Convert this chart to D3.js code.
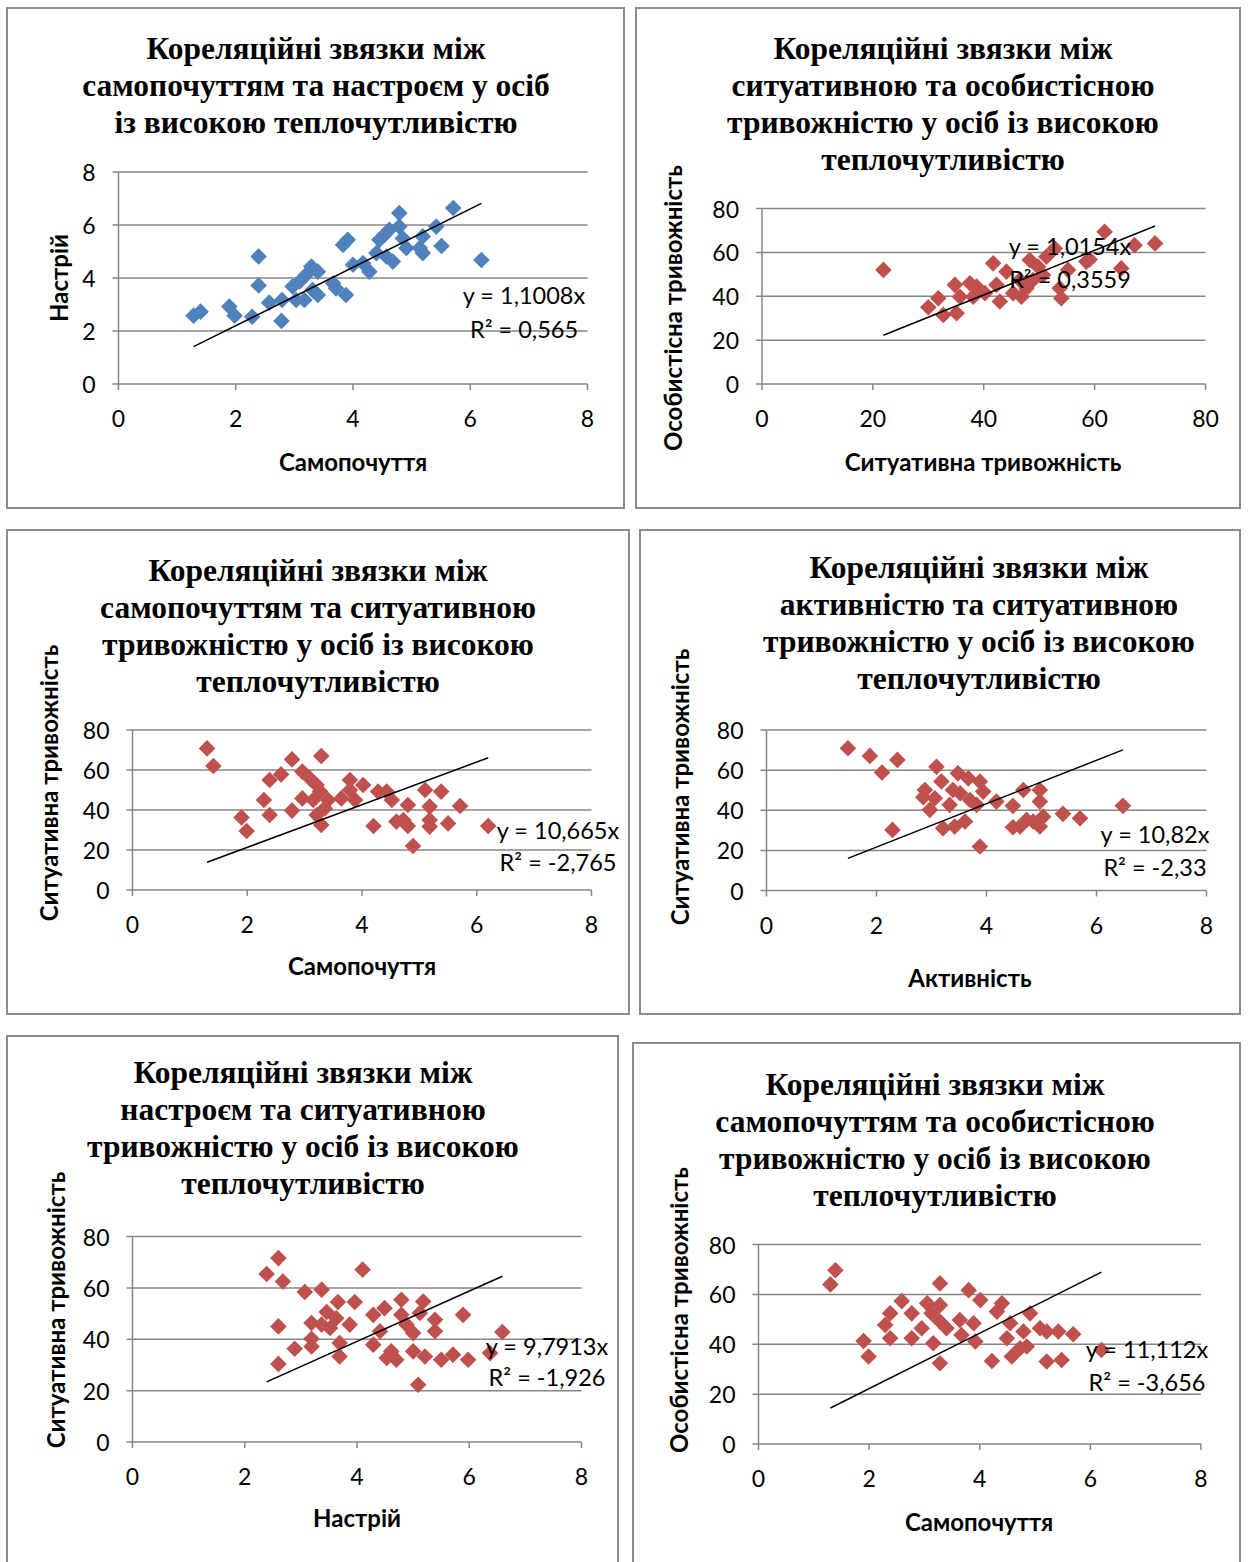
<!DOCTYPE html>
<html>
<head>
<meta charset="utf-8">
<script src="https://cdn.jsdelivr.net/npm/d3@7"></script>
<style>
  body { margin: 0; background: #fff; }
  svg { display: block; }
  .title { font-family: "Liberation Serif", "Times New Roman", serif; font-weight: bold; font-size: 31.5px; fill: #000; }
  .tick-label { font-family: Lato, "Noto Sans", sans-serif; font-size: 23px; fill: #000; }
  .axis-title { font-family: Lato, "Noto Sans", sans-serif; font-weight: bold; font-size: 24px; fill: #000; }
  .eq { font-family: Lato, "Noto Sans", sans-serif; font-size: 23.5px; fill: #000; }
</style>
</head>
<body>
<div id="viz"></div>
<script>
// points: [x, y]
var wellbeingMood = [
    [1.28,2.58],[1.40,2.73],[1.89,2.92],[1.98,2.58],[2.28,2.54],[2.39,4.81],[2.39,3.72],
    [2.57,3.07],[2.78,2.38],[2.79,3.17],[2.97,3.68],[3.03,3.17],[3.09,3.87],[3.17,3.17],
    [3.20,4.12],[3.29,4.43],[3.40,4.24],[3.40,3.36],[3.31,3.55],[3.66,3.80],[3.71,3.61],
    [3.88,3.36],[3.83,5.25],[3.91,5.44],[4.00,4.50],[4.17,4.56],[4.28,4.24],[4.40,4.94],
    [4.45,5.44],[4.54,5.63],[4.62,5.82],[4.68,4.62],[4.57,4.81],[4.79,6.45],[4.79,5.94],
    [4.85,5.50],[4.91,5.13],[5.14,5.13],[5.19,4.94],[5.19,5.57],[5.42,5.94],[5.51,5.21],
    [5.71,6.64],[6.19,4.68]
];
var situationalPersonal = [
    [21.9,52.0],[30.0,35.0],[31.8,39.1],[32.7,31.5],[35.1,32.3],[34.8,45.2],[35.7,39.8],
    [37.5,45.9],[38.1,39.8],[38.7,44.4],[40.2,41.4],[41.7,55.0],[42.3,45.2],[42.9,37.6],
    [44.1,51.2],[45.3,41.4],[46.5,47.4],[46.8,39.8],[47.7,43.6],[48.3,56.5],[48.9,47.4],
    [49.8,53.5],[50.7,49.7],[51.3,58.0],[52.8,61.8],[53.7,43.6],[54.0,39.1],[55.2,52.0],
    [58.5,55.8],[59.1,56.8],[61.8,69.4],[64.8,52.7],[67.2,63.3],[70.9,64.1]
];
var wellbeingSituational = [
    [1.30,70.8],[1.41,62.0],[1.90,36.3],[1.99,29.5],[2.29,45.0],[2.39,37.5],[2.39,55.0],
    [2.59,57.8],[2.78,65.3],[2.78,39.7],[2.96,59.2],[2.96,45.8],[3.09,55.8],[3.21,52.5],
    [3.15,45.0],[3.27,49.2],[3.29,67.0],[3.29,32.5],[3.21,37.5],[3.35,40.8],[3.41,45.0],
    [3.64,45.8],[3.79,55.0],[3.79,50.0],[3.88,45.0],[4.02,52.5],[4.20,32.0],[4.28,49.2],
    [4.43,49.2],[4.52,45.0],[4.60,34.2],[4.72,35.0],[4.80,42.5],[4.80,32.0],[4.89,22.0],
    [5.10,50.0],[5.18,41.7],[5.18,35.0],[5.18,31.7],[5.38,49.2],[5.50,33.3],[5.71,42.0],
    [6.20,32.0]
];
var activitySituational = [
    [1.48,70.9],[1.88,67.1],[2.10,58.8],[2.38,65.1],[2.29,30.2],[2.88,50.1],[2.85,46.5],
    [2.97,40.2],[3.09,61.7],[3.18,54.3],[3.06,46.0],[3.21,31.0],[3.33,42.7],[3.39,50.1],
    [3.42,31.9],[3.48,58.4],[3.52,48.5],[3.61,34.4],[3.67,55.9],[3.70,45.1],[3.88,54.3],
    [3.82,42.7],[3.94,49.3],[3.88,21.9],[4.18,44.3],[4.48,42.2],[4.48,31.5],[4.61,31.9],
    [4.67,50.1],[4.73,35.2],[4.85,34.4],[4.97,50.1],[4.97,44.3],[4.97,31.9],[5.03,36.8],
    [5.39,38.2],[5.70,36.0],[6.48,42.2]
];
var moodSituational = [
    [2.39,65.4],[2.60,71.6],[2.68,62.5],[2.60,45.0],[2.60,30.4],[2.89,36.3],[3.07,58.4],
    [3.19,46.3],[3.19,40.2],[3.19,37.2],[3.37,59.3],[3.37,45.7],[3.46,50.6],[3.52,44.4],
    [3.66,54.5],[3.63,48.2],[3.69,38.5],[3.69,33.3],[3.87,45.7],[3.96,54.5],[4.10,67.1],
    [4.29,49.5],[4.29,37.9],[4.41,43.1],[4.49,52.1],[4.53,32.7],[4.61,35.3],[4.70,32.0],
    [4.79,55.4],[4.79,49.5],[4.88,45.7],[5.00,42.4],[5.00,35.3],[5.09,22.3],[5.12,50.2],
    [5.18,54.7],[5.21,33.3],[5.39,47.6],[5.39,43.1],[5.50,32.0],[5.71,34.0],[5.89,49.5],
    [5.98,32.0],[6.37,34.6],[6.59,42.8]
];
var wellbeingPersonal = [
    [1.30,64.0],[1.39,69.7],[1.90,41.3],[1.99,35.1],[2.29,47.7],[2.38,52.4],[2.38,42.4],
    [2.59,57.3],[2.77,52.4],[2.77,42.4],[3.05,56.4],[2.95,46.4],[3.13,52.4],[3.16,40.4],
    [3.28,64.4],[3.28,55.7],[3.28,49.1],[3.28,32.4],[3.40,46.4],[3.64,49.7],[3.67,43.7],
    [3.80,61.7],[3.89,48.4],[3.92,41.1],[4.01,57.7],[4.22,33.3],[4.31,53.1],[4.40,56.4],
    [4.49,42.4],[4.55,48.4],[4.58,35.1],[4.73,38.4],[4.79,45.1],[4.85,39.1],[4.91,52.4],
    [5.09,46.4],[5.21,45.1],[5.21,33.1],[5.42,45.1],[5.48,33.7],[5.69,44.0],[6.20,37.7]
];

var slopes = [1.1008, 1.0154, 10.665, 10.82, 9.7913, 11.112];
var eqLabels = ["y = 1,1008x", "y = 1,0154x", "y = 10,665x", "y = 10,82x", "y = 9,7913x", "y = 11,112x"];
var r2Labels = ["R² = 0,565", "R² = 0,3559", "R² = -2,765", "R² = -2,33", "R² = -1,926", "R² = -3,656"];

var titles = [
    ["Кореляційні звязки між", "самопочуттям та настроєм у осіб", "із високою теплочутливістю"],
    ["Кореляційні звязки між", "ситуативною та особистісною", "тривожністю у осіб із високою", "теплочутливістю"],
    ["Кореляційні звязки між", "самопочуттям та ситуативною", "тривожністю у осіб із високою", "теплочутливістю"],
    ["Кореляційні звязки між", "активністю та ситуативною", "тривожністю у осіб із високою", "теплочутливістю"],
    ["Кореляційні звязки між", "настроєм та ситуативною", "тривожністю у осіб із високою", "теплочутливістю"],
    ["Кореляційні звязки між", "самопочуттям та особистісною", "тривожністю у осіб із високою", "теплочутливістю"]
];
var xTitles = ["Самопочуття", "Ситуативна тривожність", "Самопочуття", "Активність", "Настрій", "Самопочуття"];
var yTitles = ["Настрій", "Особистісна тривожність", "Ситуативна тривожність", "Ситуативна тривожність", "Ситуативна тривожність", "Особистісна тривожність"];

// layout of each panel (pixels)
var panels = [
    {data: wellbeingMood, color: "#4F81BD", box: [7, 8, 624, 508], plot: [118.5, 172, 587.5, 384], xmax: 8, ymax: 8, step: 2,
        titleX: 316, titleY: 48, xt: [353, 461], yt: [58, 278], eq: [524, 295, 329]},
    {data: situationalPersonal, color: "#C0504D", box: [636, 8, 1240, 508], plot: [762, 208.5, 1205.5, 384], xmax: 80, ymax: 80, step: 20,
        titleX: 943, titleY: 48, xt: [983, 461], yt: [672, 308], eq: [1070, 246, 279]},
    {data: wellbeingSituational, color: "#C0504D", box: [7, 530, 629, 1014], plot: [132.5, 730, 591.5, 890], xmax: 8, ymax: 80, step: 2, ystep: 20,
        titleX: 318, titleY: 570, xt: [362, 965], yt: [48, 783], eq: [558, 830, 862]},
    {data: activitySituational, color: "#C0504D", box: [640, 530, 1240, 1014], plot: [766.5, 730, 1206.5, 890.5], xmax: 8, ymax: 80, step: 2, ystep: 20,
        titleX: 979, titleY: 567, xt: [970, 977], yt: [679, 787], eq: [1155, 834, 867]},
    {data: moodSituational, color: "#C0504D", box: [7, 1036, 618, 1575], plot: [132.5, 1236.5, 581.5, 1442], xmax: 8, ymax: 80, step: 2, ystep: 20,
        titleX: 303, titleY: 1072, xt: [357, 1517], yt: [55, 1310], eq: [547, 1346, 1377]},
    {data: wellbeingPersonal, color: "#C0504D", box: [633, 1043, 1240, 1575], plot: [758.5, 1244.5, 1201, 1444], xmax: 8, ymax: 80, step: 2, ystep: 20,
        titleX: 935, titleY: 1084, xt: [979, 1521], yt: [678, 1310], eq: [1147, 1349, 1382]}
];

var svg = d3.select("#viz").append("svg")
    .attr("width", 1248)
    .attr("height", 1562);

var diamond = d3.symbol().type(d3.symbolSquare).size(138);

panels.forEach(function(p, i) {
    var g = svg.append("g");

    g.append("rect")
        .attr("x", p.box[0]).attr("y", p.box[1])
        .attr("width", p.box[2] - p.box[0]).attr("height", p.box[3] - p.box[1])
        .attr("fill", "#fff")
        .attr("stroke", "#8c8c8c")
        .attr("stroke-width", 2);

    var x = d3.scaleLinear().domain([0, p.xmax]).range([p.plot[0], p.plot[2]]);
    var y = d3.scaleLinear().domain([0, p.ymax]).range([p.plot[3], p.plot[1]]);
    var xTicks = d3.range(0, p.xmax + 0.001, p.step);
    var yTicks = d3.range(0, p.ymax + 0.001, p.ystep || p.step);

    // gridlines (with small outer tick)
    g.selectAll(".grid").data(yTicks).enter().append("line")
        .attr("x1", p.plot[0] - 6).attr("x2", p.plot[2])
        .attr("y1", function(d) { return y(d); }).attr("y2", function(d) { return y(d); })
        .attr("stroke", "#868686").attr("stroke-width", 1.5);

    g.append("line")
        .attr("x1", p.plot[0]).attr("x2", p.plot[0])
        .attr("y1", p.plot[1]).attr("y2", p.plot[3])
        .attr("stroke", "#868686").attr("stroke-width", 1.5);

    g.selectAll(".xtick").data(xTicks).enter().append("line")
        .attr("x1", function(d) { return x(d); }).attr("x2", function(d) { return x(d); })
        .attr("y1", p.plot[3]).attr("y2", p.plot[3] + 6)
        .attr("stroke", "#868686").attr("stroke-width", 1.5);

    g.selectAll(".ylab").data(yTicks).enter().append("text")
        .attr("class", "tick-label")
        .attr("x", p.plot[0] - 23)
        .attr("y", function(d) { return y(d); })
        .attr("text-anchor", "end")
        .attr("dominant-baseline", "central")
        .text(function(d) { return d; });

    g.selectAll(".xlab").data(xTicks).enter().append("text")
        .attr("class", "tick-label")
        .attr("x", function(d) { return x(d); })
        .attr("y", p.plot[3] + 34)
        .attr("text-anchor", "middle")
        .attr("dominant-baseline", "central")
        .text(function(d) { return d; });

    // points
    g.selectAll(".pt").data(p.data).enter().append("path")
        .attr("d", diamond)
        .attr("fill", p.color)
        .attr("transform", function(d) { return "translate(" + x(d[0]) + "," + y(d[1]) + ") rotate(45)"; });

    // trendline through origin over the data range
    var ext = d3.extent(p.data, function(d) { return d[0]; });
    g.append("line")
        .attr("x1", x(ext[0])).attr("y1", y(slopes[i] * ext[0]))
        .attr("x2", x(ext[1])).attr("y2", y(slopes[i] * ext[1]))
        .attr("stroke", "#000").attr("stroke-width", 1.5);

    g.append("text").attr("class", "eq")
        .attr("x", p.eq[0]).attr("y", p.eq[1])
        .attr("text-anchor", "middle").attr("dominant-baseline", "central")
        .text(eqLabels[i]);
    g.append("text").attr("class", "eq")
        .attr("x", p.eq[0]).attr("y", p.eq[2])
        .attr("text-anchor", "middle").attr("dominant-baseline", "central")
        .text(r2Labels[i]);

    // titles
    g.selectAll(".title").data(titles[i]).enter().append("text")
        .attr("class", "title")
        .attr("x", p.titleX)
        .attr("y", function(d, k) { return p.titleY + k * 37; })
        .attr("text-anchor", "middle")
        .attr("dominant-baseline", "central")
        .text(function(d) { return d; });

    g.append("text").attr("class", "axis-title")
        .attr("x", p.xt[0]).attr("y", p.xt[1])
        .attr("text-anchor", "middle").attr("dominant-baseline", "central")
        .text(xTitles[i]);

    g.append("text").attr("class", "axis-title")
        .attr("transform", "translate(" + p.yt[0] + "," + p.yt[1] + ") rotate(-90)")
        .attr("text-anchor", "middle").attr("dominant-baseline", "central")
        .text(yTitles[i]);
});
</script>
</body>
</html>
